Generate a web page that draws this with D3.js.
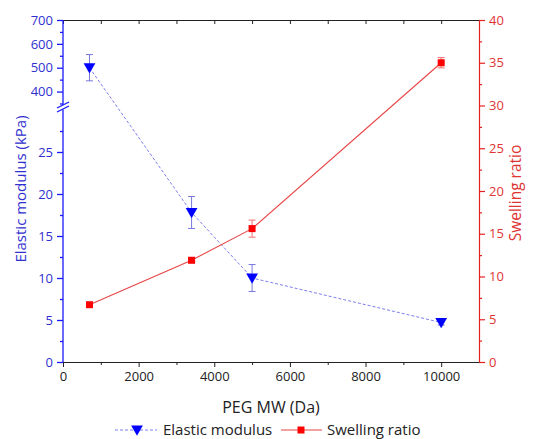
<!DOCTYPE html>
<html><head><meta charset="utf-8">
<script src="https://cdn.jsdelivr.net/npm/d3@7"></script>
<style>body{margin:0;background:#fff}svg{display:block}text{font-family:"Open Sans",sans-serif}</style>
</head><body>
<svg id="c" width="533" height="439"></svg>
<script>
const pegMW = [700, 3400, 5000, 10000];
const modulus = [500, 17.8, 10.0, 4.7];
const modulusErr = [55, 1.9, 1.6, 0.3];
const swelling = [6.7, 11.9, 15.6, 35.0];
const swellingErr = [0.2, 0.3, 1.0, 0.6];
const xTicks = [0, 2000, 4000, 6000, 8000, 10000];
const xMinor = [1000, 3000, 5000, 7000, 9000];
const yLowTicks = [0, 5, 10, 15, 20, 25];
const yLowMinor = [2.5, 7.5, 12.5, 17.5, 22.5, 27.5];
const yHighTicks = [400, 500, 600, 700];
const yHighMinor = [350, 450, 550, 650];
const yRightTicks = [0, 5, 10, 15, 20, 25, 30, 35, 40];
const yRightMinor = [2.5, 7.5, 12.5, 17.5, 22.5, 27.5, 32.5, 37.5];

const L = 63, R = 479, T = 20, B = 362;
const BLUE = "#1a1aff", BLUE_T = "#3030d0", RED = "#e52222", RED_T = "#e03434";
const svg = d3.select("#c");

const x = d3.scaleLinear().domain([0, 11000]).range([L, R]);
const yLow = d3.scaleLinear().domain([0, 30]).range([B, 110]);
const yHigh = d3.scaleLinear().domain([350, 700]).range([103.5, T]);
const yL = d3.scaleLinear().domain([0, 30, 350, 700]).range([B, 110, 103.5, T]);
const yR = d3.scaleLinear().domain([0, 40]).range([B, T]);

// Bottom axis
const gx = svg.append("g").attr("transform", `translate(0,${B})`)
  .call(d3.axisBottom(x).tickValues(xTicks).tickFormat(d3.format("d")).tickSize(5).tickSizeOuter(0).tickPadding(5));
gx.append("g").call(d3.axisBottom(x).tickValues(xMinor).tickSize(3).tickFormat(""))
  .select(".domain").remove();
gx.selectAll("path,line").attr("stroke", "#222");
gx.selectAll("text").attr("font-size", 13).attr("fill", "#222").attr("font-family", "Open Sans");

// Top axis
const gt = svg.append("g").attr("transform", `translate(0,${T})`)
  .call(d3.axisBottom(x).tickValues(xTicks.concat(xMinor)).tickSize(4).tickSizeOuter(0).tickFormat(""));
gt.selectAll("path,line").attr("stroke", "#222");

// Left axis (broken)
const gl = svg.append("g").attr("transform", `translate(${L},0)`);
gl.append("g").call(d3.axisLeft(yLow).tickValues(yLowTicks).tickSize(6).tickSizeOuter(0).tickPadding(4)).select(".domain").remove();
gl.append("g").call(d3.axisLeft(yLow).tickValues(yLowMinor).tickSize(3).tickFormat("")).select(".domain").remove();
gl.append("g").call(d3.axisLeft(yHigh).tickValues(yHighTicks).tickSize(6).tickSizeOuter(0).tickPadding(4)).select(".domain").remove();
gl.append("g").call(d3.axisLeft(yHigh).tickValues(yHighMinor).tickSize(3).tickFormat("")).select(".domain").remove();
gl.append("line").attr("y1", B).attr("y2", 109.5);
gl.append("line").attr("y1", 104.5).attr("y2", T);
gl.selectAll("line").attr("stroke", BLUE).attr("stroke-width", 1.3);
gl.selectAll("text").attr("font-size", 13).attr("fill", BLUE_T).attr("font-family", "Open Sans");
[0, 1].forEach(i => {
  gl.append("line").attr("x1", -6).attr("y1", 112 - i * 4).attr("x2", 6).attr("y2", 106 - i * 4)
    .attr("stroke", BLUE).attr("stroke-width", 1.3);
});

// Right axis
const gr = svg.append("g").attr("transform", `translate(${R},0)`)
  .call(d3.axisRight(yR).tickValues(yRightTicks).tickSize(6).tickSizeOuter(0).tickPadding(4));
gr.append("g").call(d3.axisRight(yR).tickValues(yRightMinor).tickSize(3).tickFormat("")).select(".domain").remove();
gr.selectAll("path,line").attr("stroke", RED).attr("stroke-width", 1.2);
gr.selectAll("text").attr("font-size", 13).attr("fill", RED_T).attr("font-family", "Open Sans");

// Axis titles
svg.append("text").attr("x", 271).attr("y", 413).attr("text-anchor", "middle")
  .attr("font-size", 16).attr("fill", "#222").text("PEG MW (Da)");
svg.append("text").attr("transform", `translate(26,189) rotate(-90)`).attr("text-anchor", "middle")
  .attr("font-size", 15).attr("fill", BLUE_T).text("Elastic modulus (kPa)");
svg.append("text").attr("transform", `translate(521,193) rotate(-90)`).attr("text-anchor", "middle")
  .attr("font-size", 15.5).attr("fill", RED_T).text("Swelling ratio");

const mod = pegMW.map((v, i) => ({x: v, y: modulus[i], e: modulusErr[i]}));
const sw = pegMW.map((v, i) => ({x: v, y: swelling[i], e: swellingErr[i]}));

// Lines
svg.append("path").datum(mod).attr("fill", "none").attr("stroke", "#7d7df0").attr("stroke-width", 1)
  .attr("stroke-dasharray", "3,2").attr("d", d3.line().x(d => x(d.x)).y(d => yL(d.y)));
svg.append("path").datum(sw).attr("fill", "none").attr("stroke", "#e84545").attr("stroke-width", 1.1)
  .attr("d", d3.line().x(d => x(d.x)).y(d => yR(d.y)));

// Error bars
function errBars(data, ys, color) {
  const g = svg.append("g").attr("stroke", color).attr("stroke-width", 1);
  data.forEach(d => {
    const cx = x(d.x), y1 = ys(d.y - d.e), y2 = ys(d.y + d.e);
    g.append("line").attr("x1", cx).attr("x2", cx).attr("y1", y1).attr("y2", y2);
    g.append("line").attr("x1", cx - 3.5).attr("x2", cx + 3.5).attr("y1", y1).attr("y2", y1);
    g.append("line").attr("x1", cx - 3.5).attr("x2", cx + 3.5).attr("y1", y2).attr("y2", y2);
  });
}
errBars(mod, yL, "#7777dd");
errBars(sw, yR, "#f07070");

// Markers
const tri = d3.symbol().type(d3.symbolTriangle).size(60);
svg.append("g").selectAll("path").data(mod).join("path")
  .attr("d", tri).attr("fill", "#0000ff")
  .attr("transform", d => `translate(${x(d.x)},${yL(d.y) - 1}) rotate(180)`);
svg.append("g").selectAll("rect").data(sw).join("rect")
  .attr("x", d => x(d.x) - 3.5).attr("y", d => yR(d.y) - 3.5).attr("width", 7).attr("height", 7)
  .attr("fill", "#ff0000");

// Legend
const ly = 430;
svg.append("line").attr("x1", 115).attr("x2", 157).attr("y1", ly).attr("y2", ly)
  .attr("stroke", "#7d7df0").attr("stroke-dasharray", "3,2");
svg.append("path").attr("d", tri).attr("fill", "#0000ff").attr("transform", `translate(137,${ly - 1}) rotate(180)`);
svg.append("text").attr("x", 163).attr("y", 434.5).attr("font-size", 15).attr("fill", "#222").text("Elastic modulus");
svg.append("line").attr("x1", 281).attr("x2", 322).attr("y1", ly).attr("y2", ly).attr("stroke", "#e84545").attr("stroke-width", 1.1);
svg.append("rect").attr("x", 297.5).attr("y", ly - 3.5).attr("width", 7).attr("height", 7).attr("fill", "#ff0000");
svg.append("text").attr("x", 327).attr("y", 434.5).attr("font-size", 15).attr("fill", "#222").text("Swelling ratio");
</script>
</body></html>
